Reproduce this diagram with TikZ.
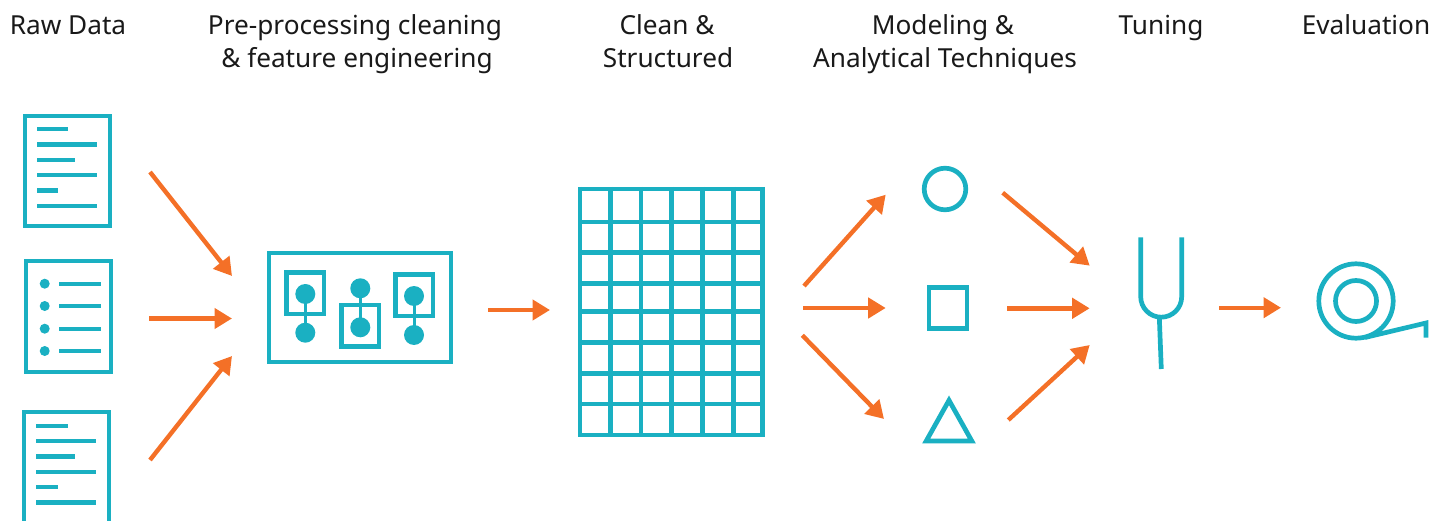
\documentclass[tikz,border=0pt]{standalone}
\usepackage{fontspec}
\setmainfont{Noto Sans}
\usetikzlibrary{arrows.meta}
\definecolor{iconblue}{HTML}{1AB0C2}
\definecolor{floworange}{HTML}{F47027}
\tikzset{
    icon/.style={draw=iconblue, line width=4.7pt, miter limit=10},
    thinicon/.style={draw=iconblue, line width=4.4pt},
    dot/.style={fill=iconblue},
    flowarrow/.style={draw=floworange, line width=4.4pt, -{Triangle[length=17.5pt,width=20pt,fill=floworange]}},
    heading/.style={anchor=base, align=center, text=black!90, font=\fontsize{26.2}{33}\selectfont}
}
\begin{document}
\begin{tikzpicture}[x=1pt,y=-1pt]
    \clip (0,0) rectangle (1434,521);

    \node[heading] (rawdata) at (68,35) {Raw Data};
    \node[heading] (prep1) at (355,35) {Pre-processing cleaning};
    \node[heading] (prep2) at (357,68) {\& feature engineering};
    \node[heading] (clean1) at (667,35) {Clean \&};
    \node[heading] (clean2) at (668,68) {Structured};
    \node[heading] (model1) at (943,35) {Modeling \&};
    \node[heading] (model2) at (945,68) {Analytical Techniques};
    \node[heading] (tuning) at (1161,35) {Tuning};
    \node[heading] (evaluation) at (1366,35) {Evaluation};

    % documents
    \draw[icon] (25,116) rectangle (110,226);
    \foreach \y/\xend in {129/68, 144.5/97, 160/75, 175/97, 190.5/58, 206/97}
        \draw[thinicon] (37,\y) -- (\xend,\y);

    \draw[icon] (26,261) rectangle (111,372);
    \foreach \y in {283.7, 306, 328.7, 351} {
        \fill[dot] (44.7,\y) circle (5);
        \draw[thinicon] (59,\y) -- (101,\y);
    }

    \draw[icon] (24,525) -- (24,412) -- (109,412) -- (109,525);
    \foreach \y/\xend in {425.7/67.7, 441/96, 456.3/75, 471.7/96, 487/57.7, 502.3/96}
        \draw[thinicon] (36.3,\y) -- (\xend,\y);

    % feature box
    \draw[icon] (269,253) rectangle (451,362);
    \draw[thinicon] (286.3,272.7) rectangle (324,313.7);
    \draw[thinicon] (341.3,305) rectangle (379,346.3);
    \draw[thinicon] (395.3,274.7) rectangle (433,315.7);
    \foreach \x/\ya/\yb in {305.3/294/332.7, 360.3/288.3/327.3, 414/296/335} {
        \draw[draw=iconblue, line width=3pt] (\x,\ya) -- (\x,\yb);
        \fill[dot] (\x,\ya) circle (10);
        \fill[dot] (\x,\yb) circle (10);
    }

    % table
    \foreach \x in {580, 610.3, 641, 671.7, 702.3, 733.3, 762.7}
        \draw[icon] (\x,187) -- (\x,437);
    \foreach \y in {189, 222, 252.7, 283.7, 311.3, 342.3, 373.3, 404, 435}
        \draw[icon] (578,\y) -- (765,\y);

    % shapes
    \draw[icon] (945,189) circle (20.8);
    \draw[icon] (929,287.5) rectangle (967,328.5);
    \draw[icon] (949,400.3) -- (971.8,441) -- (926.2,441) -- cycle;

    % tuning fork
    \draw[icon] (1140.7,237.3) -- (1140.7,296.7) arc[start angle=180, end angle=360, radius=20.5pt] -- (1181.7,237.3);
    \draw[icon] (1159.3,317) -- (1161.3,369);

    % tape roll
    \draw[icon] (1356,301) circle (37.2);
    \draw[icon] (1356,301) circle (20.5);
    \draw[icon] (1365,337.5) -- (1426,323) -- (1426,337.7);

    % arrows
    \foreach \n/\xa/\ya/\xb/\yb in {
        a/150/172/232/276, b/149/318.5/232/318.5, c/150/460/232/356,
        d/488/310/550/310,
        e/804/286/885.7/194.7, f/803.3/308/885.7/308, g/802.3/335.3/884/419,
        h/1002.7/192.7/1089.7/265.7, i/1007/308.3/1089.7/308.3, j/1008.3/420/1089.7/345,
        k/1219.3/307.7/1281/307.7} {
        \coordinate (start\n) at (\xa,\ya);
        \coordinate (end\n) at (\xb,\yb);
        \draw[flowarrow] (start\n) -- (end\n);
    }
\end{tikzpicture}
\end{document}
